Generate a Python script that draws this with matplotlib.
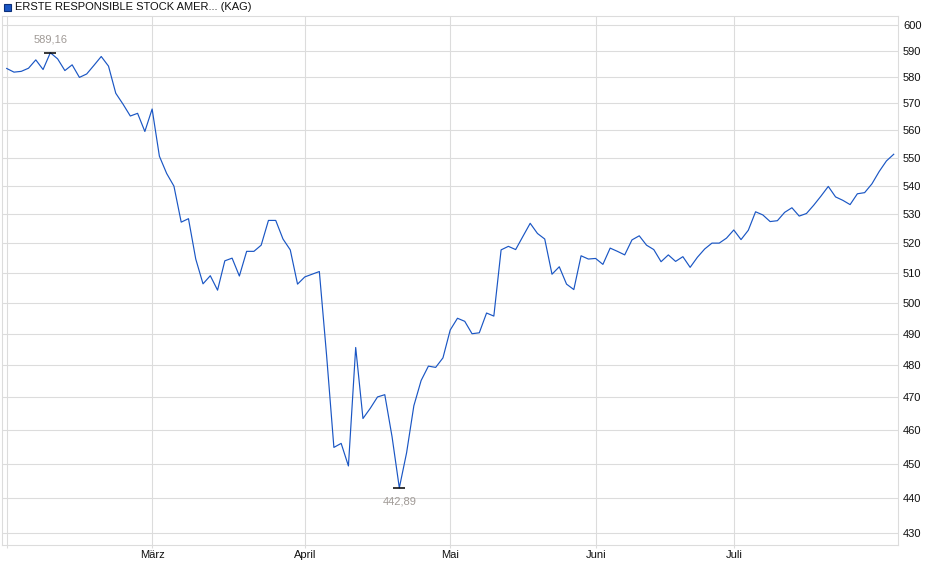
import matplotlib.pyplot as plt
from matplotlib.ticker import FixedLocator, NullLocator, FuncFormatter

plt.rcParams['font.family'] = ['Liberation Sans', 'DejaVu Sans']

# daily closes, Feb - Jul (one value per trading day)
prices = [
    583.1, 581.7, 582.0, 583.2, 586.4, 582.7, 589.16, 586.8, 582.3, 584.5,
    579.7, 581.0, 584.3, 587.7, 584.0, 573.7, 569.6, 565.2, 566.2, 559.5,
    567.8, 550.5, 544.3, 539.8, 527.2, 528.4, 514.6, 506.3, 509.0, 504.2,
    514.0, 514.9, 508.9, 517.2, 517.2, 519.3, 527.8, 527.8, 521.4, 517.7,
    506.2, 508.6, 509.5, 510.4, 483.0, 454.8, 456.0, 449.3, 485.6, 463.5,
    466.6, 470.1, 470.8, 458.0, 442.89, 453.2, 467.4, 475.2, 479.7, 479.3,
    482.3, 491.2, 495.0, 494.0, 490.0, 490.3, 496.7, 495.7, 517.7, 518.9,
    517.8, 522.3, 526.8, 523.3, 521.4, 509.5, 512.0, 506.2, 504.4, 515.7,
    514.6, 514.8, 512.8, 518.3, 517.2, 516.0, 521.1, 522.5, 519.3, 517.8,
    513.7, 516.0, 513.8, 515.4, 511.8, 515.2, 518.0, 520.0, 520.0, 521.7,
    524.5, 521.2, 524.4, 530.8, 529.7, 527.4, 527.7, 530.6, 532.2, 529.3,
    530.2, 533.1, 536.3, 539.7, 536.0, 534.8, 533.3, 537.1, 537.5, 540.6,
    545.0, 548.8, 551.2,
]
# first trading day of each month (index into prices)
month_idx = [0, 20, 41, 61, 81, 100]
month_names = ['', 'März', 'April', 'Mai', 'Juni', 'Juli']
y_ticks = list(range(430, 601, 10))
title = 'ERSTE RESPONSIBLE STOCK AMER... (KAG)'

grid_col = '#dcdcdc'
line_col = '#1a56c4'

fig = plt.figure(figsize=(9.4, 5.79), dpi=100)
ax = fig.add_axes([0.0025, 0.0587, 0.9529, 0.9136])

x = list(range(len(prices)))
ax.plot(x, prices, color=line_col, lw=0.85, zorder=3)

ax.set_yscale('log')
ax.set_ylim(426.6, 603.5)
ax.set_xlim(-0.6, len(prices) - 0.4)
ax.yaxis.set_major_locator(FixedLocator(y_ticks))
ax.yaxis.set_minor_locator(NullLocator())
ax.yaxis.set_major_formatter(FuncFormatter(lambda v, p: '%d' % round(v)))
ax.yaxis.tick_right()
ax.tick_params(axis='y', length=0, pad=3.5, labelsize=8, labelcolor='#111111')

ax.set_xticks(month_idx)
ax.set_xticklabels(month_names)
ax.tick_params(axis='x', length=2, color=grid_col, pad=1.5, labelsize=8,
               labelcolor='#111111')

ax.grid(True, color=grid_col, lw=0.8)
ax.set_axisbelow(True)
for s in ax.spines.values():
    s.set_color(grid_col)
    s.set_linewidth(0.8)

# high / low markers
hi = prices.index(max(prices))
lo = prices.index(min(prices))
for i, off, va in [(hi, 6, 'bottom'), (lo, -6, 'top')]:
    ax.plot(i, prices[i], marker='_', ms=9, mew=1.1, color='black', zorder=4)
    ax.annotate(('%.2f' % prices[i]).replace('.', ','), (i, prices[i]),
                xytext=(0, off), textcoords='offset points', ha='center',
                va=va, fontsize=8, color='#a09a96')

# legend-like header
fig.patches.append(plt.Rectangle((4 / 940, 1 - 11 / 579), 7 / 940, 7 / 579,
                                 transform=fig.transFigure, facecolor=line_col,
                                 edgecolor='#0c2f7a', lw=0.8))
fig.text(15 / 940, 1 - 6.5 / 579, title, fontsize=8, va='center', ha='left',
         color='#111111')

fig.savefig('out.png', dpi=100)
